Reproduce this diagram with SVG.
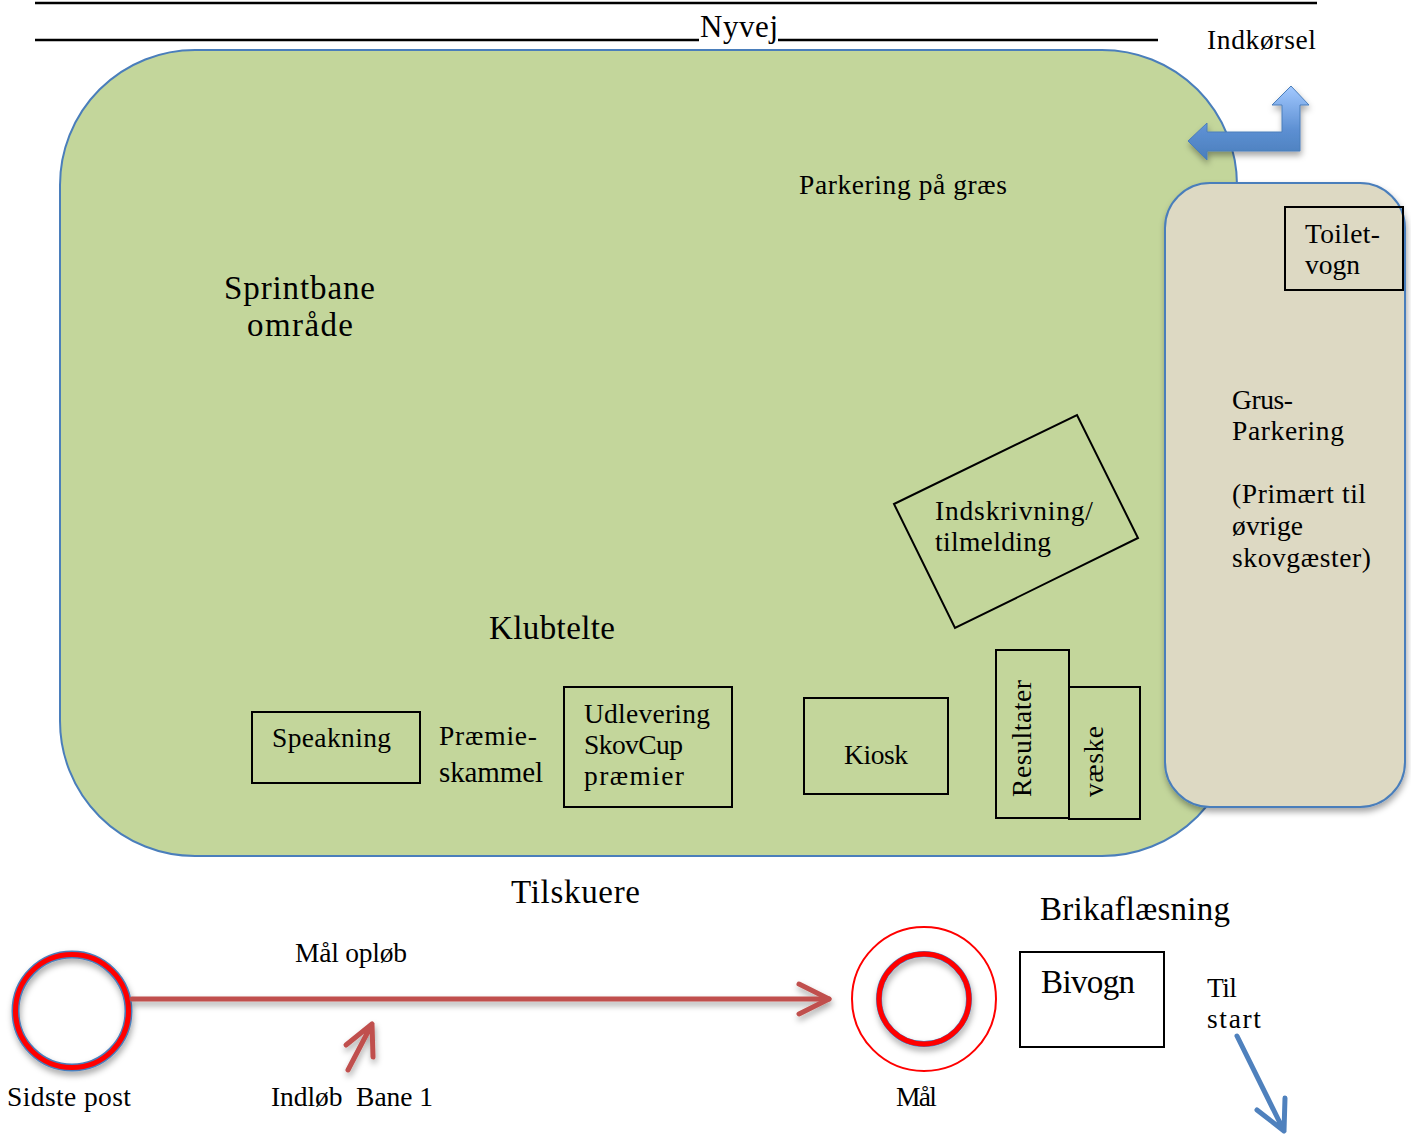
<svg xmlns="http://www.w3.org/2000/svg" width="1411" height="1135" viewBox="0 0 1411 1135">
<style>
text{font-family:"Liberation Serif","Times New Roman",serif;fill:#000;font-size:27.5px}
.m{font-size:33px}
.box{fill:none;stroke:#000;stroke-width:2}
.area{stroke:#4a7ebb;stroke-width:2}
.ring{fill:none;stroke:#f00}
.ringo{fill:none;stroke:#4a7ebb}
.rd{fill:none;stroke:#c0504d;stroke-width:5;stroke-linecap:round;stroke-linejoin:round}
.bl{fill:none;stroke:#4f81bd;stroke-width:5;stroke-linecap:round;stroke-linejoin:round}
.ul{stroke:#000;stroke-width:2.5}
</style>
<defs>
<filter id="sh" x="-20%" y="-20%" width="140%" height="140%"><feDropShadow dx="1" dy="4" stdDeviation="3" flood-color="#000" flood-opacity="0.35"/></filter>
<linearGradient id="g" x1="0" y1="0" x2="0" y2="1"><stop offset="0" stop-color="#a3c9ff"/><stop offset="0.6" stop-color="#5c8fd2"/><stop offset="1" stop-color="#4a7ebb"/></linearGradient>
</defs>
<g id="road">
<line class="ul" x1="35" y1="3" x2="1317" y2="3"/>
<line class="ul" x1="35" y1="40" x2="699" y2="40"/>
<line class="ul" x1="778" y1="40" x2="1158" y2="40"/>
<text x="700" y="37" style="font-size:31px" textLength="78">Nyvej</text>
</g>
<g id="graes">
<rect class="area" x="60" y="50" width="1177" height="806" rx="135" ry="135" fill="#c3d69b"/>
<text x="799" y="194" textLength="208">Parkering på græs</text>
<text x="224" y="299" class="m" textLength="151">Sprintbane</text>
<text x="247" y="336" class="m" textLength="106">område</text>
<text x="489" y="639" class="m" textLength="126">Klubtelte</text>
</g>
<g id="indkoersel">
<text x="1207" y="49" textLength="109">Indkørsel</text>
<path d="M1188 141 L1207 123 V132 H1282 V105 H1272 L1291 86 L1309 105 H1300 V151 H1207 V160 Z" fill="url(#g)" stroke="#4a7ebb" stroke-width="1" filter="url(#sh)"/>
</g>
<g id="grus">
<rect class="area" x="1165" y="183" width="240" height="624" rx="45" ry="45" fill="#ddd9c3" filter="url(#sh)"/>
<text x="1232" y="409" textLength="61">Grus-</text>
<text x="1232" y="440" textLength="112">Parkering</text>
<text x="1232" y="503" textLength="134">(Primært til</text>
<text x="1232" y="535" textLength="71">øvrige</text>
<text x="1232" y="567" textLength="139">skovgæster)</text>
</g>
<g id="toilet">
<rect class="box" x="1285" y="207" width="118" height="83"/>
<text x="1305" y="243" textLength="75">Toilet-</text>
<text x="1305" y="274" textLength="55">vogn</text>
</g>
<g id="indskrivning">
<polygon class="box" points="894,504 1077,415 1138,538 955,628"/>
<text x="935" y="520" textLength="158">Indskrivning/</text>
<text x="935" y="551" textLength="116">tilmelding</text>
</g>
<g id="speakning">
<rect class="box" x="252" y="712" width="168" height="71"/>
<text x="272" y="747" textLength="119">Speakning</text>
</g>
<g id="praemie">
<text x="439" y="745" textLength="98">Præmie-</text>
<text x="439" y="782" style="font-size:29px" textLength="104">skammel</text>
</g>
<g id="udlevering">
<rect class="box" x="564" y="687" width="168" height="120"/>
<text x="584" y="723" textLength="126">Udlevering</text>
<text x="584" y="754" textLength="99">SkovCup</text>
<text x="584" y="785" textLength="100">præmier</text>
</g>
<g id="kiosk">
<rect class="box" x="804" y="698" width="144" height="96"/>
<text x="844" y="764" textLength="64">Kiosk</text>
</g>
<g id="resultater">
<rect class="box" x="996" y="650" width="73" height="168"/>
<text transform="translate(1031 797) rotate(-90)" textLength="117">Resultater</text>
</g>
<g id="vaeske">
<rect class="box" x="1069" y="687" width="71" height="132"/>
<text transform="translate(1103 797) rotate(-90)" textLength="71">væske</text>
</g>
<g id="labels">
<text x="511" y="903" class="m" textLength="129">Tilskuere</text>
<text x="1040" y="920" class="m" textLength="190">Brikaflæsning</text>
<text x="295" y="962" textLength="112">Mål opløb</text>
<text x="7" y="1106" textLength="124">Sidste post</text>
<text x="271" y="1106" textLength="162" xml:space="preserve">Indløb  Bane 1</text>
<text x="896" y="1106" textLength="41">Mål</text>
<text x="1207" y="997" textLength="30">Til</text>
<text x="1207" y="1028" textLength="54">start</text>
</g>
<g id="sidste-post">
<circle class="ringo" cx="72" cy="1011" r="56.5" stroke-width="8" filter="url(#sh)"/>
<circle class="ring" cx="72" cy="1011" r="56.5" stroke-width="5"/>
</g>
<g id="maal">
<circle cx="924" cy="999" r="72" fill="none" stroke="#f00" stroke-width="2"/>
<circle class="ringo" cx="924" cy="999" r="45" stroke-width="6" filter="url(#sh)"/>
<circle class="ring" cx="924" cy="999" r="45" stroke-width="5"/>
</g>
<g id="bivogn">
<rect class="box" x="1020" y="952" width="144" height="95"/>
<text x="1041" y="993" class="m" textLength="94">Bivogn</text>
</g>
<g id="connectors">
<g filter="url(#sh)">
<path class="rd" d="M132 999 H829"/>
<path class="rd" d="M799 984 L829 999 L799 1014"/>
<path class="rd" d="M348 1070 L372 1024 M346 1045 L372 1024 L373 1057"/>
</g>
<path class="bl" d="M1237 1036 L1284 1131 M1257 1110 L1284 1131 L1285 1098"/>
</g>
</svg>
